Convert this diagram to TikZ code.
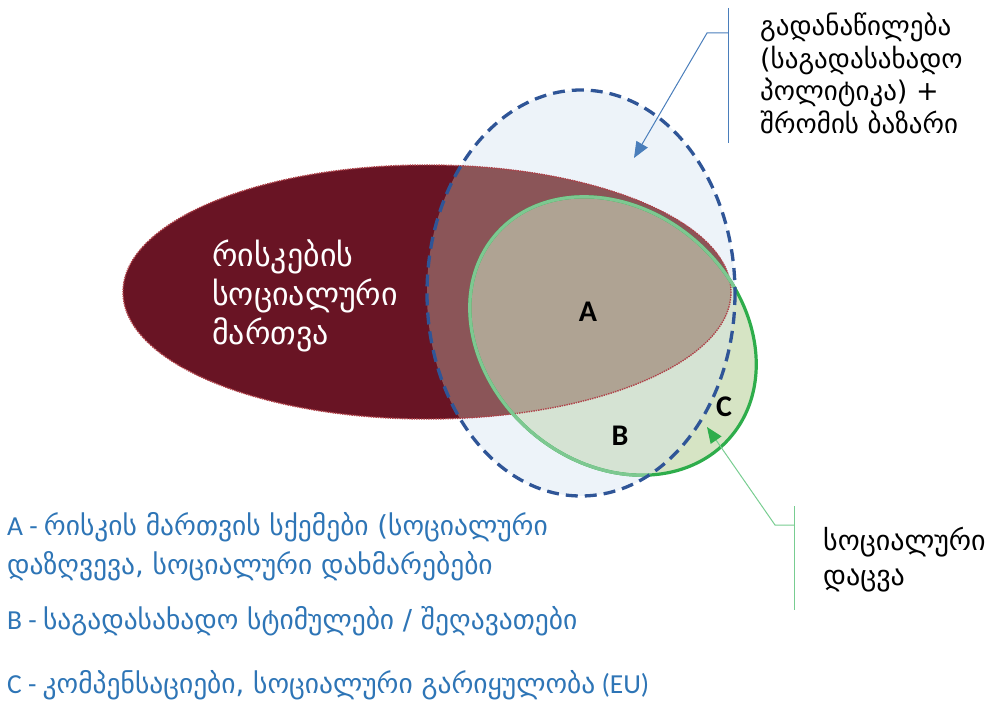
\documentclass[tikz,border=0pt]{standalone}
\usepackage{fontspec}
\setmainfont{Carlito}
\newfontfamily\geo{DejaVu Sans}
\usetikzlibrary{arrows.meta}
\definecolor{riskred}{RGB}{105,20,36}
\definecolor{riskedge}{RGB}{175,65,72}
\definecolor{redistfill}{RGB}{237,243,249}
\definecolor{redistline}{RGB}{47,85,151}
\definecolor{riskredist}{RGB}{139,85,88}
\definecolor{regionA}{RGB}{175,163,147}
\definecolor{regionB}{RGB}{213,227,211}
\definecolor{regionC}{RGB}{214,228,196}
\definecolor{protdark}{RGB}{46,173,75}
\definecolor{protlight}{RGB}{125,200,145}
\definecolor{calloutblue}{RGB}{74,126,187}
\definecolor{calloutgreen}{RGB}{120,205,145}
\definecolor{legendblue}{RGB}{46,117,182}
\tikzset{
  legendtext/.style={anchor=west, inner sep=0pt, text=legendblue, font=\fontsize{27.5}{32}\selectfont},
  callouttext/.style={anchor=north west, inner sep=0pt, align=left},
  letterlabel/.style={inner sep=0pt, font=\fontsize{30}{34}\selectfont\bfseries},
}
\begin{document}
\begin{tikzpicture}[x=1pt,y=1pt,yscale=-1,xscale=1]
        \useasboundingbox (0,0) rectangle (993,703);
        %Shape: Ellipse (redistribution, fill)
        \fill [redistfill] (581,293) ellipse [x radius=154, y radius=203];
        %Shape: Ellipse (risk management)
        \fill [riskred] (427,292) ellipse [x radius=304, y radius=127];
        %Overlap: risk and redistribution
        \begin{scope}
            \clip (427,292) ellipse [x radius=304, y radius=127];
            \fill [riskredist] (581,293) ellipse [x radius=154, y radius=203];
        \end{scope}
        %Shape: Ellipse (social protection, fill = C)
        \fill [regionC, rotate around={41:(613,336)}] (613,336) ellipse [x radius=155, y radius=126];
        %Region B
        \begin{scope}
            \clip (581,293) ellipse [x radius=154, y radius=203];
            \fill [regionB, rotate around={41:(613,336)}] (613,336) ellipse [x radius=155, y radius=126];
        \end{scope}
        %Region A
        \begin{scope}
            \clip (427,292) ellipse [x radius=304, y radius=127];
            \fill [regionA, rotate around={41:(613,336)}] (613,336) ellipse [x radius=155, y radius=126];
        \end{scope}
        %Edge of the risk ellipse
        \draw [riskedge, line width=1.4, densely dotted] (427,292) ellipse [x radius=304, y radius=127];
        %Outline of the social protection ellipse
        \draw [protdark, line width=3.2, rotate around={41:(613,336)}] (613,336) ellipse [x radius=155, y radius=126];
        \begin{scope}
            \clip (581,293) ellipse [x radius=154, y radius=203];
            \draw [protlight, line width=3.2, rotate around={41:(613,336)}] (613,336) ellipse [x radius=155, y radius=126];
        \end{scope}
        %Outline of the redistribution ellipse
        \draw [redistline, line width=3.3, dash pattern={on 12 off 7}] (581,293) ellipse [x radius=154, y radius=203];

        %Callout (redistribution)
        \coordinate (blueTop) at (728,8);
        \coordinate (blueBot) at (728,143);
        \coordinate (blueMid) at (728,33);
        \coordinate (blueKnee) at (707,33);
        \coordinate (blueTip) at (634,158);
        \draw [calloutblue, line width=1] (blueTop) -- (blueBot);
        \draw [calloutblue, line width=1, -{Triangle[length=16,width=13]}] (blueMid) -- (blueKnee) -- (blueTip);
        %Callout (social protection)
        \coordinate (greenTop) at (794,506);
        \coordinate (greenBot) at (794,610);
        \coordinate (greenMid) at (794,525);
        \coordinate (greenKnee) at (775,525);
        \coordinate (greenTip) at (707,427);
        \draw [calloutgreen, line width=1] (greenTop) -- (greenBot);
        \draw [calloutgreen, line width=1, -{Triangle[length=16,width=13,color=protdark,fill=protdark]}] (greenMid) -- (greenKnee) -- (greenTip);

        % Text Node
        \node [anchor=west, inner sep=0pt, align=left, text=white, font=\fontsize{32}{39}\selectfont\geo] (riskText) at (212,296) {რისკების\\სოციალური\\მართვა};
        % Text Node
        \node [callouttext, font=\fontsize{27}{32.5}\selectfont\geo] (redistText) at (760,13) {გადანაწილება\\(საგადასახადო\\პოლიტიკა) +\\შრომის ბაზარი};
        % Text Node
        \node [callouttext, font=\fontsize{28}{35}\selectfont\geo] (protText) at (823,527) {სოციალური\\დაცვა};
        % Text Node
        \node [letterlabel] (labA) at (588,312) {A};
        % Text Node
        \node [letterlabel] (labB) at (620,436) {B};
        % Text Node
        \node [letterlabel] (labC) at (724,407) {C};
        % Text Node
        \node [legendtext] (legA1) at (7,527) {A - {\geo რისკის მართვის სქემები (სოციალური}};
        % Text Node
        \node [legendtext] (legA2) at (7,566) {\geo დაზღვევა, სოციალური დახმარებები};
        % Text Node
        \node [legendtext] (legB) at (7,621) {B - {\geo საგადასახადო სტიმულები / შეღავათები}};
        % Text Node
        \node [legendtext] (legC) at (7,685) {C - {\geo კომპენსაციები, სოციალური გარიყულობა} (EU)};
\end{tikzpicture}
\end{document}
